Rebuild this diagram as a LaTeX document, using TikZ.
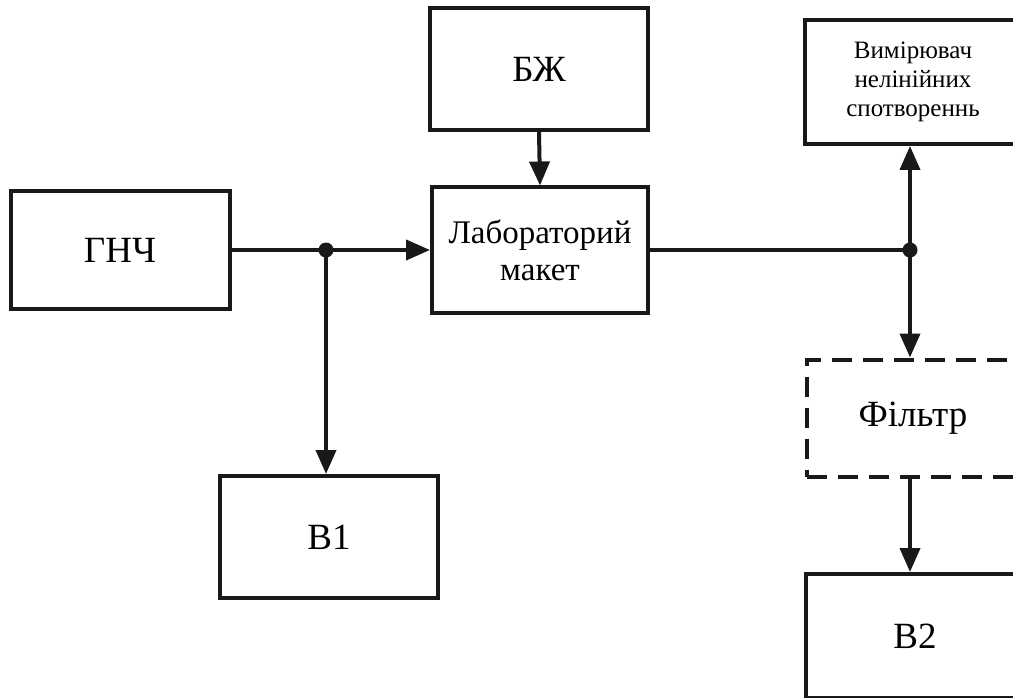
\documentclass[tikz,border=0pt]{standalone}
\usepackage{fontspec}
\setmainfont{Liberation Serif}
\usetikzlibrary{arrows.meta}
\begin{document}
\begin{tikzpicture}[x=1pt,y=-1pt,
  blk/.style={draw=black!90,line width=4pt,fill=white,inner sep=0pt,align=center},
  big/.style={font=\fontsize{37}{40}\selectfont},
  mid/.style={font=\fontsize{33}{37}\selectfont},
  small/.style={font=\fontsize{25}{29}\selectfont},
  dsh/.style={dash pattern=on 20pt off 11pt},
  con/.style={line width=4pt,draw=black!90},
  arr/.style={con,-{Triangle[length=24pt,width=20pt]}},
  jdot/.style={circle,fill=black!90,inner sep=0pt,minimum size=15pt}]
\useasboundingbox (0,0) rectangle (1013,698);
\clip (0,0) rectangle (1013,698);
\node[blk,big,minimum width=219pt,minimum height=118pt] (gnc) at (120,250) {ГНЧ};
\node[blk,big,minimum width=218pt,minimum height=122pt] (bzh) at (539,69) {БЖ};
\node[blk,mid,minimum width=216pt,minimum height=125pt] (lab) at (540,250) {Лабораторий\\макет};
\node[blk,small,minimum width=216pt,minimum height=124pt] (vym) at (913,82) {Вимірювач\\нелінійних\\спотвореннь};
\node[blk,big,dsh,minimum width=212pt,minimum height=117pt] (fil) at (913,418) {Фільтр};
\node[blk,big,minimum width=218pt,minimum height=122pt] (b1) at (329,537) {В1};
\node[blk,big,minimum width=218pt,minimum height=124pt] (b2) at (915,636) {В2};
\node[jdot] (j1) at (326,250) {};
\node[jdot] (j2) at (910,250) {};
\draw[con] (gnc.east) -- (j1.center);
\draw[arr] (j1.center) -- (lab.west);
\draw[arr] (j1.center) -- (j1.center |- b1.north);
\draw[arr] (bzh.south) -- (lab.north);
\draw[con] (lab.east) -- (j2.center);
\draw[arr] (j2.center) -- (j2.center |- vym.south);
\draw[arr] (j2.center) -- (j2.center |- fil.north);
\draw[arr] (j2.center |- fil.south) -- (j2.center |- b2.north);
\end{tikzpicture}
\end{document}
